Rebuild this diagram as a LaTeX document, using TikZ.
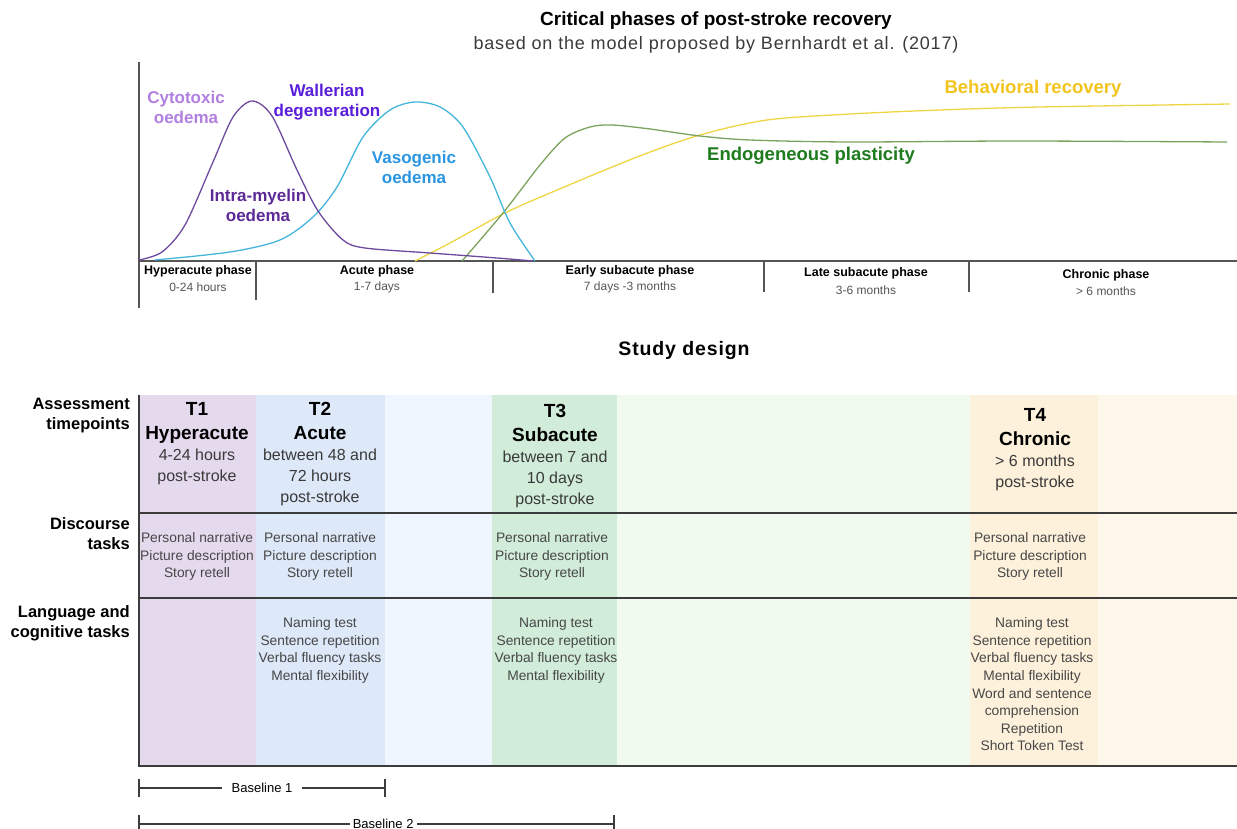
\documentclass[tikz,border=0pt]{standalone}
\usepackage{fontspec}
\setmainfont{Liberation Sans}
\newfontfamily\widefont[LetterSpace=4.5]{Liberation Sans}
\usetikzlibrary{arrows.meta}

\newcommand\sz[2]{\fontsize{#1}{#2}\selectfont}

\definecolor{axisgray}{HTML}{555555}
\definecolor{timegray}{HTML}{555555}
\definecolor{infogray}{HTML}{3A3A3A}
\definecolor{taskgray}{HTML}{474747}
\definecolor{linegray}{HTML}{3C3C3C}
% curves
\definecolor{cytopurple}{HTML}{6E4A9E}
\definecolor{vasocyan}{HTML}{45B5DC}
\definecolor{plastgreen}{HTML}{7BA35C}
\definecolor{behavyellow}{HTML}{EED544}
% curve labels
\definecolor{cytolbl}{HTML}{B07FE0}
\definecolor{wallbl}{HTML}{5A1EDB}
\definecolor{vasolbl}{HTML}{2A95E0}
\definecolor{intralbl}{HTML}{5C2A96}
\definecolor{plastlbl}{HTML}{1E7B1E}
\definecolor{behavlbl}{HTML}{F2C41C}
% columns
\definecolor{colTone}{HTML}{E5D9EE}
\definecolor{colTtwo}{HTML}{DDE8F8}
\definecolor{gapTwo}{HTML}{EFF6FF}
\definecolor{colTthree}{HTML}{D1ECD8}
\definecolor{gapThree}{HTML}{F0FAEF}
\definecolor{colTfour}{HTML}{FDF1DC}
\definecolor{gapFour}{HTML}{FEF8EC}

\begin{document}
\begin{tikzpicture}[x=1pt,y=-1pt,
  axisline/.style={draw=axisgray,line width=1.2pt},
  phasename/.style={font=\bfseries\sz{12.5}{15},inner sep=0},
  phasetime/.style={text=timegray,font=\sz{12}{14},inner sep=0},
  curvelbl/.style={font=\bfseries\sz{17}{20},align=center,inner sep=0},
  curve/.style={line width=1.3pt,smooth,tension=0.5},
  rowlbl/.style={font=\bfseries\sz{16.5}{20},align=right,anchor=north east,inner sep=0},
  tphead/.style={font=\bfseries\sz{19}{24},align=center,anchor=north,inner sep=0},
  tpinfo/.style={font=\sz{16}{21},text=infogray,align=center,anchor=north,inner sep=0},
  tasklist/.style={font=\sz{13.8}{17.6},text=taskgray,align=center,anchor=north,inner sep=0},
  gridline/.style={draw=linegray,line width=1.5pt},
  bline/.style={draw=linegray,line width=1.2pt},
  btick/.style={draw=linegray,line width=1.4pt}]
\useasboundingbox (0,0) rectangle (1237,829);

% ---------- critical phases ----------
\node[font=\bfseries\sz{19}{22}] (title) at (716,21) {Critical phases of post-stroke recovery};
\node[font=\widefont\sz{18}{21},text=infogray] (subtitle) at (716,45) {based on the model proposed by Bernhardt et al. (2017)};

\coordinate (origin) at (139,261);
\coordinate (ytop) at (139,62);
\coordinate (ybot) at (139,308);
\coordinate (xend) at (1237,261);
\path[axisline] (ytop) -- (ybot);
\path[axisline] (origin) -- (xend);
\foreach \x/\b in {256/300,493/293,764/292,969/292}
  \path[axisline] (\x,261) -- (\x,\b);

\node[phasename] (ph1) at (198,271) {Hyperacute phase};
\node[phasetime] (tm1) at (198,287) {0-24 hours};
\node[phasename] (ph2) at (377,271) {Acute phase};
\node[phasetime] (tm2) at (377,287) {1-7 days};
\node[phasename] (ph3) at (630,271) {Early subacute phase};
\node[phasetime] (tm3) at (630,287) {7 days -3 months};
\node[phasename] (ph4) at (866,273) {Late subacute phase};
\node[phasetime] (tm4) at (866,290) {3-6 months};
\node[phasename] (ph5) at (1106,275) {Chronic phase};
\node[phasetime] (tm5) at (1106,291) {> 6 months};

\draw[curve,behavyellow] plot coordinates {(415,261) (450,243) (503,214) (550,193) (637,157) (700,135) (767,120) (850,114) (940,110) (1040,107) (1230,104)};
\draw[curve,plastgreen] plot coordinates {(462,261) (503,213) (540,165) (565,138) (590,127) (612,125) (650,129) (700,136) (750,140) (850,142) (1017,141) (1227,142)};
\draw[curve,vasocyan] plot coordinates {(155,260) (230,252) (280,240) (313,217) (337,187) (363,137) (390,110) (415,102) (440,107) (463,127) (490,177) (510,223) (535,261)};
\draw[curve,cytopurple] plot coordinates {(139,260) (162,252) (185,225) (213,162) (233,117) (252,101) (272,116) (297,170) (318,211) (343,240) (365,248) (430,253) (497,258) (533,261)};

\node[curvelbl,text=cytolbl] (cyto) at (186,107) {Cytotoxic\\oedema};
\node[curvelbl,text=wallbl] (waller) at (327,102) {Wallerian\\degeneration};
\node[curvelbl,text=vasolbl] (vaso) at (414,167) {Vasogenic\\oedema};
\node[curvelbl,text=intralbl] (intra) at (258,205) {Intra-myelin\\oedema};
\node[curvelbl,text=plastlbl,font=\bfseries\sz{18.5}{22}] (plast) at (811,156) {Endogeneous plasticity};
\node[curvelbl,text=behavlbl,font=\bfseries\sz{18.5}{22}] (behav) at (1033,89) {Behavioral recovery};

% ---------- study design ----------
\node[font=\widefont\bfseries\sz{19.5}{22}] (design) at (684,351) {Study design};

\fill[colTone] (139,395) rectangle (256,766);
\fill[colTtwo] (256,395) rectangle (385,766);
\fill[gapTwo] (385,395) rectangle (492,766);
\fill[colTthree] (492,395) rectangle (617,766);
\fill[gapThree] (617,395) rectangle (970,766);
\fill[colTfour] (970,395) rectangle (1098,766);
\fill[gapFour] (1098,395) rectangle (1237,766);

\path[gridline] (139,395) -- (139,766) -- (1237,766);
\path[gridline] (139,513) -- (1237,513);
\path[gridline] (139,598) -- (1237,598);

\node[rowlbl] (rowtp) at (130,398.4) {Assessment\\timepoints};
\node[rowlbl] (rowdisc) at (130,517.4) {Discourse\\tasks};
\node[rowlbl] (rowlang) at (130,605.4) {Language and\\cognitive tasks};

\node[tphead] (t1) at (197,402.4) {T1\\Hyperacute};
\node[tpinfo] (t1info) at (197,448.6) {4-24 hours\\post-stroke};
\node[tphead] (t2) at (320,402.4) {T2\\Acute};
\node[tpinfo] (t2info) at (320,448.6) {between 48 and\\72 hours\\post-stroke};
\node[tphead] (t3) at (555,404.4) {T3\\Subacute};
\node[tpinfo] (t3info) at (555,450.6) {between 7 and\\10 days\\post-stroke};
\node[tphead] (t4) at (1035,408.4) {T4\\Chronic};
\node[tpinfo] (t4info) at (1035,454.6) {> 6 months\\post-stroke};

\node[tasklist] (disc1) at (197,532.5) {Personal narrative\\Picture description\\Story retell};
\node[tasklist] (disc2) at (320,532.5) {Personal narrative\\Picture description\\Story retell};
\node[tasklist] (disc3) at (552,532.5) {Personal narrative\\Picture description\\Story retell};
\node[tasklist] (disc4) at (1030,532.5) {Personal narrative\\Picture description\\Story retell};

\node[tasklist] (lang2) at (320,617.5) {Naming test\\Sentence repetition\\Verbal fluency tasks\\Mental flexibility};
\node[tasklist] (lang3) at (556,617.5) {Naming test\\Sentence repetition\\Verbal fluency tasks\\Mental flexibility};
\node[tasklist] (lang4) at (1032,617.5) {Naming test\\Sentence repetition\\Verbal fluency tasks\\Mental flexibility\\Word and sentence\\comprehension\\Repetition\\Short Token Test};

% baselines
\coordinate (b1a) at (139,788);
\coordinate (b1b) at (385,788);
\coordinate (b2a) at (139,824);
\coordinate (b2b) at (614,824);
\path[bline] (b1a) -- (b1b) node[midway,fill=white,inner xsep=10pt,inner ysep=1pt,font=\sz{13}{15}] (base1) {Baseline 1};
\path[bline] (b2a) -- (b2b) node[pos=0.514,fill=white,inner xsep=3pt,inner ysep=1pt,font=\sz{13}{15}] (base2) {Baseline 2};
\foreach \c in {b1a,b1b,b2a,b2b}
  \path[btick] ([yshift=9pt]\c) -- ([yshift=-9pt]\c);
\end{tikzpicture}
\end{document}
